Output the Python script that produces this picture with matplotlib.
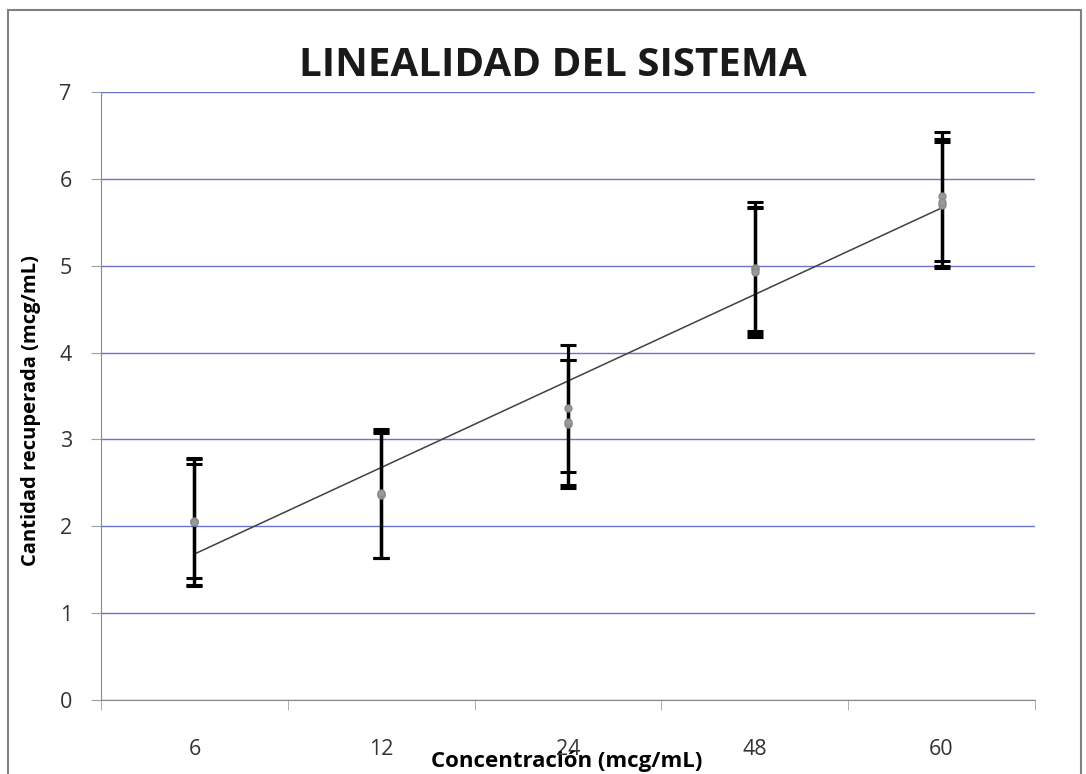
import numpy as np
import matplotlib
matplotlib.use("Agg")
import matplotlib.pyplot as plt
from matplotlib.patches import Rectangle

# Concentration levels (categories) and recovered amounts, three replicates each
categories = ["6", "12", "24", "48", "60"]
rep_means = [
    [2.05, 2.06, 2.05],
    [2.37, 2.36, 2.38],
    [3.36, 3.18, 3.20],
    [4.97, 4.96, 4.93],
    [5.80, 5.70, 5.73],
]
rep_errors = [
    [0.73, 0.66, 0.74],
    [0.73, 0.72, 0.74],
    [0.73, 0.74, 0.72],
    [0.76, 0.71, 0.75],
    [0.74, 0.72, 0.73],
]
y_ticks = [0, 1, 2, 3, 4, 5, 6, 7]

font = ["Open Sans", "DejaVu Sans"]
plt.rcParams["font.family"] = font

fig = plt.figure(figsize=(10.86, 7.74), dpi=100)
ax = fig.add_axes([0.093, 0.0956, 0.86, 0.7854])

x = np.arange(len(categories))

# error bars for each replicate, drawn on top of each other
for r in range(3):
    means = [m[r] for m in rep_means]
    errs = [e[r] for e in rep_errors]
    ax.errorbar(x, means, yerr=errs, fmt="none", ecolor="black",
                elinewidth=2.3, capsize=5.5, capthick=2.2, zorder=3)
    ax.plot(x, means, "o", ms=5, mfc="#9a9a9a", mec="#8a8a8a", zorder=4)

# linear trend through the mean of each level
avg = np.array([np.mean(m) for m in rep_means])
slope, intercept = np.polyfit(x, avg, 1)
ax.plot(x, slope * x + intercept, color="#404040", lw=1.1, zorder=2)

ax.set_xlim(-0.5, len(categories) - 0.5)
ax.set_ylim(0, 7)
ax.set_yticks(y_ticks)
ax.set_xticks(x)
ax.set_xticklabels(categories)
ax.set_xticks(np.arange(-0.5, len(categories)), minor=True)
ax.tick_params(axis="x", which="major", length=0, pad=28, labelsize=15.5,
               labelcolor="#333333")
ax.tick_params(axis="x", which="minor", length=7, color="#a0a0a0",
               direction="out")
ax.tick_params(axis="y", length=7, color="#a0a0a0", labelsize=15.5,
               labelcolor="#333333", pad=14)

ax.yaxis.grid(True, color="#6a75c8", lw=1)
ax.set_axisbelow(True)
for s in ["top", "right"]:
    ax.spines[s].set_visible(False)
ax.spines["left"].set_color("#8a8a8a")
ax.spines["bottom"].set_color("#8a8a8a")

fig.text(0.509, 0.916, "LINEALIDAD DEL SISTEMA", ha="center", va="center",
         fontsize=29, fontweight="bold", color="#1a1a1a")
fig.text(0.029, 0.469, "Cantidad recuperada (mcg/mL)", rotation=90,
         ha="center", va="center", fontsize=14.5, fontweight="bold")
fig.text(0.522, 0.016, "Concentración (mcg/mL)", ha="center", va="center",
         fontsize=16, fontweight="bold")

# chart border
fig.patches.append(Rectangle((0.007, -0.01), 0.988, 0.997,
                             transform=fig.transFigure, fill=False,
                             edgecolor="#808080", lw=1.5))

fig.savefig("out.png", dpi=100)
